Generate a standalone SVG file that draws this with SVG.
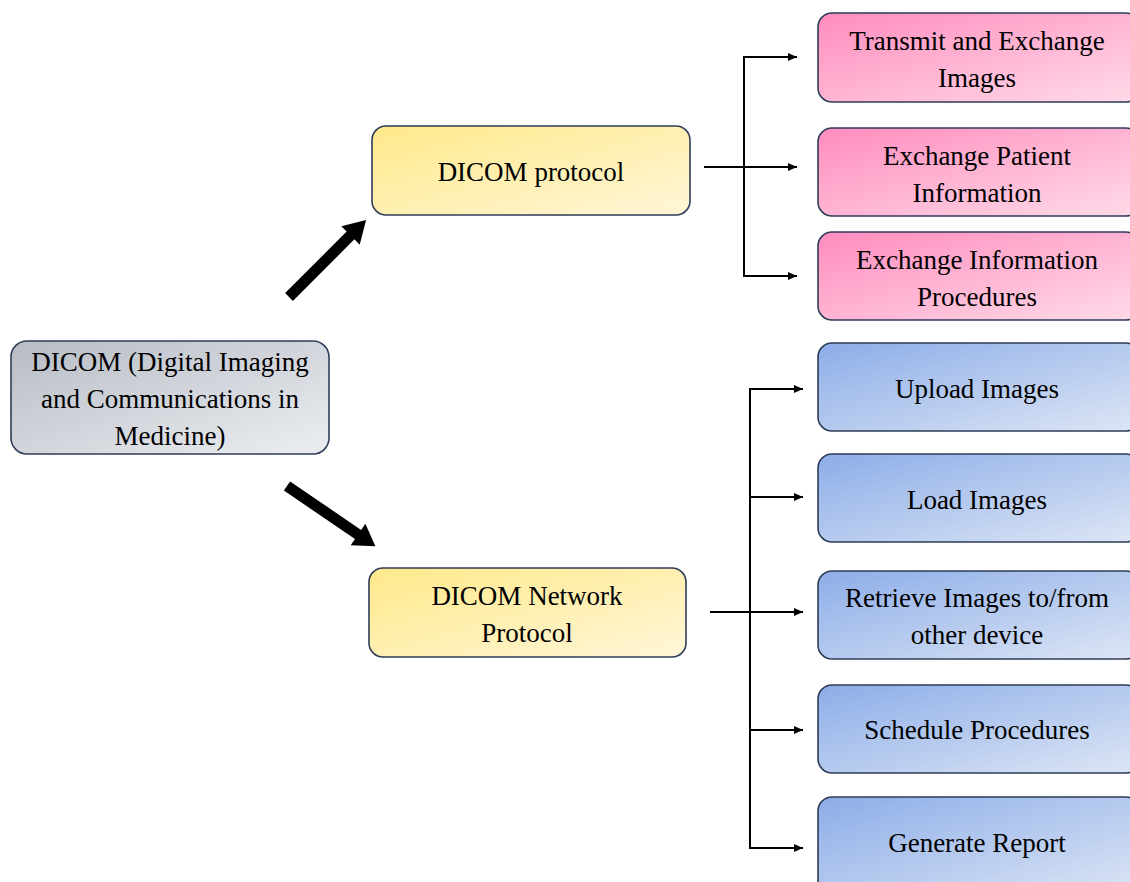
<svg xmlns="http://www.w3.org/2000/svg" width="1130" height="882" viewBox="0 0 1130 882">
<defs>
<linearGradient id="gGray" x1="0" y1="0" x2="1" y2="1"><stop offset="0" stop-color="#b7bcc5"/><stop offset="1" stop-color="#eceef1"/></linearGradient>
<linearGradient id="gYellow" x1="0" y1="0" x2="1" y2="1"><stop offset="0" stop-color="#ffe98a"/><stop offset="1" stop-color="#fff6d8"/></linearGradient>
<linearGradient id="gPink" x1="0" y1="0" x2="1" y2="1"><stop offset="0" stop-color="#ff8cbd"/><stop offset="1" stop-color="#ffdbe9"/></linearGradient>
<linearGradient id="gBlue" x1="0" y1="0" x2="1" y2="1"><stop offset="0" stop-color="#8dade8"/><stop offset="1" stop-color="#dde6f5"/></linearGradient>
<marker id="ah" markerWidth="10" markerHeight="10" refX="9" refY="5" orient="auto" markerUnits="userSpaceOnUse"><path d="M0,1 L9,5 L0,9 z" fill="#000"/></marker>
</defs>
<style>
.box{stroke:#2e3d58;stroke-width:1.6}
.t{font-family:"Liberation Serif","Times New Roman",serif;font-size:27px;fill:#000;text-anchor:middle}
.c{fill:none;stroke:#000;stroke-width:2}
</style>
<rect width="1130" height="882" fill="#fff"/>
<g id="connectors">
<polygon transform="translate(289,297) rotate(-45)" points="0,-5.5 87,-5.5 87,-13 109,0 87,13 87,5.5 0,5.5" fill="#000"/>
<polygon transform="translate(287,486) rotate(34.3)" points="0,-5.5 86,-5.5 86,-13 107,0 86,13 86,5.5 0,5.5" fill="#000"/>
<path class="c" d="M704,167 H797" marker-end="url(#ah)"/>
<path class="c" d="M744,57 V276 H797" marker-end="url(#ah)"/>
<path class="c" d="M743,57 H797" marker-end="url(#ah)"/>
<path class="c" d="M710,612 H803" marker-end="url(#ah)"/>
<path class="c" d="M750,389 V848 H803" marker-end="url(#ah)"/>
<path class="c" d="M749,389 H803" marker-end="url(#ah)"/>
<path class="c" d="M750,497 H803" marker-end="url(#ah)"/>
<path class="c" d="M750,730 H803" marker-end="url(#ah)"/>
</g>
<g id="root"><rect class="box" x="11" y="341" width="318" height="113" rx="16" fill="url(#gGray)"/>
<text class="t" x="170" y="371">DICOM (Digital Imaging</text><text class="t" x="170" y="408">and Communications in</text><text class="t" x="170" y="445">Medicine)</text></g>
<g id="dicom-protocol"><rect class="box" x="372" y="126" width="318" height="89" rx="14" fill="url(#gYellow)"/>
<text class="t" x="531" y="181">DICOM protocol</text></g>
<g id="dicom-network"><rect class="box" x="369" y="568" width="317" height="89" rx="14" fill="url(#gYellow)"/>
<text class="t" x="527" y="605">DICOM Network</text><text class="t" x="527" y="642">Protocol</text></g>
<g id="transmit"><rect class="box" x="818" y="13" width="322" height="89" rx="14" fill="url(#gPink)"/>
<text class="t" x="977" y="50">Transmit and Exchange</text><text class="t" x="977" y="87">Images</text></g>
<g id="patient"><rect class="box" x="818" y="128" width="322" height="88" rx="14" fill="url(#gPink)"/>
<text class="t" x="977" y="165">Exchange Patient</text><text class="t" x="977" y="202">Information</text></g>
<g id="procedures"><rect class="box" x="818" y="232" width="322" height="88" rx="14" fill="url(#gPink)"/>
<text class="t" x="977" y="269">Exchange Information</text><text class="t" x="977" y="306">Procedures</text></g>
<g id="upload"><rect class="box" x="818" y="343" width="322" height="88" rx="14" fill="url(#gBlue)"/>
<text class="t" x="977" y="398">Upload Images</text></g>
<g id="load"><rect class="box" x="818" y="454" width="322" height="88" rx="14" fill="url(#gBlue)"/>
<text class="t" x="977" y="509">Load Images</text></g>
<g id="retrieve"><rect class="box" x="818" y="571" width="322" height="88" rx="14" fill="url(#gBlue)"/>
<text class="t" x="977" y="607">Retrieve Images to/from</text><text class="t" x="977" y="644">other device</text></g>
<g id="schedule"><rect class="box" x="818" y="685" width="322" height="88" rx="14" fill="url(#gBlue)"/>
<text class="t" x="977" y="739">Schedule Procedures</text></g>
<g id="report"><rect class="box" x="818" y="797" width="322" height="100" rx="14" fill="url(#gBlue)"/>
<text class="t" x="977" y="852">Generate Report</text></g>
</svg>
